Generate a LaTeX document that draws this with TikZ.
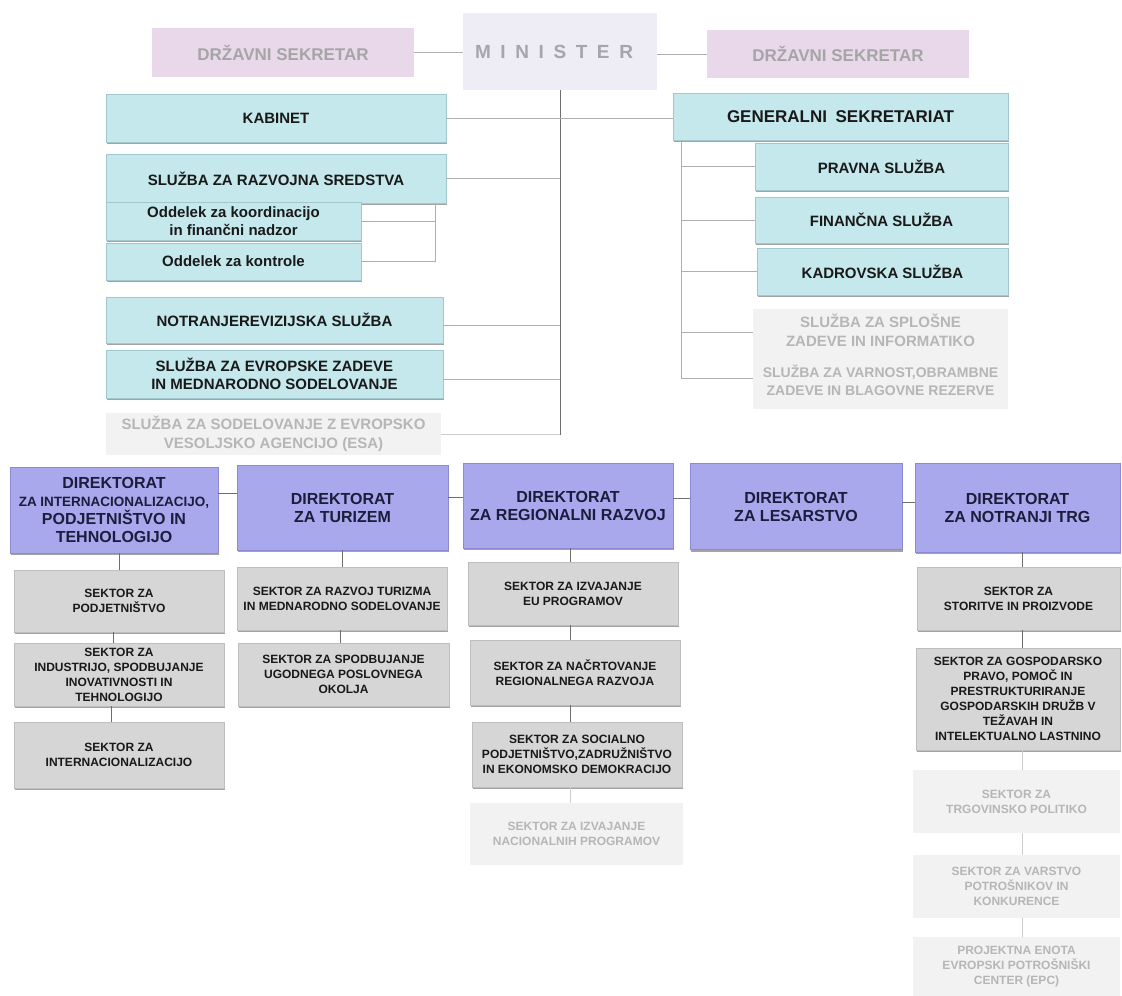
\documentclass[tikz,border=0pt]{standalone}
\usepackage{fontspec}
\setmainfont{Liberation Sans}
\usetikzlibrary{shadows}
\definecolor{cyanbox}{RGB}{197,232,236}
\definecolor{cyanedge}{RGB}{160,200,206}
\definecolor{dirbox}{RGB}{170,168,236}
\definecolor{diredge}{RGB}{140,138,210}
\definecolor{dirtext}{RGB}{28,28,60}
\definecolor{sekbox}{RGB}{214,214,214}
\definecolor{sekedge}{RGB}{190,190,190}
\definecolor{fadebox}{RGB}{242,242,242}
\definecolor{fadetext}{RGB}{182,182,182}
\definecolor{dsbox}{RGB}{232,216,234}
\definecolor{dstext}{RGB}{165,165,165}
\definecolor{minbox}{RGB}{238,237,246}
\definecolor{mintext}{RGB}{165,165,172}
\definecolor{textdark}{RGB}{25,25,25}
\definecolor{linelight}{RGB}{175,175,175}
\definecolor{linedark}{RGB}{110,110,110}
\definecolor{linefade}{RGB}{205,205,205}
\tikzset{
  box/.style={rectangle, inner sep=1pt, align=center, anchor=center},
  shad/.style={drop shadow={shadow xshift=1.2pt, shadow yshift=-2pt, fill=black!45, opacity=0.8}},
  cybox/.style={box, shad, fill=cyanbox, draw=cyanedge, line width=0.6pt, text=textdark,
    font=\bfseries\fontsize{15}{18}\selectfont},
  dirbx/.style={box, shad, fill=dirbox, draw=diredge, line width=0.6pt, text=dirtext,
    font=\bfseries\fontsize{16}{18}\selectfont},
  sekbx/.style={box, shad, fill=sekbox, draw=sekedge, line width=0.6pt, text=textdark,
    font=\bfseries\fontsize{12}{15}\selectfont},
  fadebx/.style={box, fill=fadebox, text=fadetext, font=\bfseries\fontsize{15}{19}\selectfont},
  fadesek/.style={box, fill=fadebox, text=fadetext, font=\bfseries\fontsize{12}{15}\selectfont},
  dsbx/.style={box, fill=dsbox, text=dstext, font=\bfseries\fontsize{17}{20}\selectfont},
  minbx/.style={box, fill=minbox, text=mintext, font=\bfseries\fontsize{19}{22}\selectfont},
  conn/.style={draw=linelight, line width=0.8pt},
  conndark/.style={draw=linedark, line width=0.9pt},
  connfade/.style={draw=linefade, line width=0.8pt},
}
\newcommand{\gp}{\hspace{9.6pt}}
\begin{document}
\begin{tikzpicture}[x=1pt,y=-1pt]
\useasboundingbox[fill=white] (0,0) rectangle (1122,996);

% top level
\node[dsbx, minimum width=262pt, minimum height=49pt] (DSL) at (283,52.5) {DRŽAVNI SEKRETAR};
\node[minbx, minimum width=194pt, minimum height=77pt] (MIN) at (560,51.5) {M\gp I\gp N\gp I\gp S\gp T\gp E\gp R\hspace{12pt}};
\node[dsbx, minimum width=262pt, minimum height=48pt] (DSR) at (838,54) {DRŽAVNI SEKRETAR};

% left services
\node[cybox, minimum width=340pt, minimum height=48pt] (KAB) at (276,118) {KABINET};
\node[cybox, minimum width=340pt, minimum height=49pt] (SRS) at (276,178.5) {SLUŽBA ZA RAZVOJNA SREDSTVA};
\node[cybox, minimum width=255pt, minimum height=38pt] (OK) at (233.5,221) {Oddelek za koordinacijo\\in finančni nadzor};
\node[cybox, minimum width=255pt, minimum height=37pt] (OKT) at (233.5,261.5) {Oddelek za kontrole};
\node[cybox, minimum width=337pt, minimum height=46pt] (NRS) at (274.5,320) {NOTRANJEREVIZIJSKA SLUŽBA};
\node[cybox, minimum width=337pt, minimum height=48pt] (SEZ) at (274.5,374) {SLUŽBA ZA EVROPSKE ZADEVE\\IN MEDNARODNO SODELOVANJE};
\node[fadebx, minimum width=335pt, minimum height=42pt] (ESA) at (273.5,434) {SLUŽBA ZA SODELOVANJE Z EVROPSKO\\VESOLJSKO AGENCIJO (ESA)};

% right services
\node[cybox, minimum width=335pt, minimum height=47pt, font=\bfseries\fontsize{17}{20}\selectfont] (GS) at (840.5,116.5) {GENERALNI\hspace{0.5em}SEKRETARIAT};
\node[cybox, minimum width=253pt, minimum height=47pt] (PRA) at (881.5,166.5) {PRAVNA SLUŽBA};
\node[cybox, minimum width=253pt, minimum height=46pt] (FIN) at (881.5,220) {FINANČNA SLUŽBA};
\node[cybox, minimum width=251pt, minimum height=47pt] (KAD) at (882.5,271.5) {KADROVSKA SLUŽBA};
\node[fadebx, minimum width=255pt, minimum height=42pt] (SPL) at (880.5,330) {SLUŽBA ZA SPLOŠNE\\ZADEVE IN INFORMATIKO};
\node[fadebx, minimum width=255pt, minimum height=58pt, font=\bfseries\fontsize{14}{18}\selectfont] (VAR) at (880.5,380) {SLUŽBA ZA VARNOST,OBRAMBNE\\ZADEVE IN BLAGOVNE REZERVE};

% directorates
\node[dirbx, minimum width=208pt, minimum height=86pt] (D1) at (114,510) {DIREKTORAT\\{\fontsize{13.5}{18}\selectfont ZA INTERNACIONALIZACIJO,}\\PODJETNIŠTVO IN\\TEHNOLOGIJO};
\node[dirbx, minimum width=211pt, minimum height=85pt] (D2) at (342.5,507.5) {DIREKTORAT\\ZA TURIZEM};
\node[dirbx, minimum width=210pt, minimum height=85pt] (D3) at (568,505.5) {DIREKTORAT\\ZA REGIONALNI RAZVOJ};
\node[dirbx, minimum width=212pt, minimum height=86pt] (D4) at (796,506.5) {DIREKTORAT\\ZA LESARSTVO};
\node[dirbx, minimum width=205pt, minimum height=89pt] (D5) at (1017.5,507.5) {DIREKTORAT\\ZA NOTRANJI TRG};

% sectors column 1
\node[sekbx, minimum width=210pt, minimum height=62pt] (S1) at (119,601) {SEKTOR ZA\\PODJETNIŠTVO};
\node[sekbx, minimum width=210pt, minimum height=63pt] (S2) at (119,674.5) {SEKTOR ZA\\INDUSTRIJO, SPODBUJANJE\\INOVATIVNOSTI IN\\TEHNOLOGIJO};
\node[sekbx, minimum width=210pt, minimum height=66pt] (S3) at (119,755) {SEKTOR ZA\\INTERNACIONALIZACIJO};

% column 2
\node[sekbx, minimum width=210pt, minimum height=63pt] (T1) at (342,598.5) {SEKTOR ZA RAZVOJ TURIZMA\\IN MEDNARODNO SODELOVANJE};
\node[sekbx, minimum width=211pt, minimum height=63pt] (T2) at (343.5,674.5) {SEKTOR ZA SPODBUJANJE\\UGODNEGA POSLOVNEGA\\OKOLJA};

% column 3
\node[sekbx, minimum width=210pt, minimum height=63pt] (R1) at (573,593.5) {SEKTOR ZA IZVAJANJE\\EU PROGRAMOV};
\node[sekbx, minimum width=210pt, minimum height=65pt] (R2) at (575,672.5) {SEKTOR ZA NAČRTOVANJE\\REGIONALNEGA RAZVOJA};
\node[sekbx, minimum width=210pt, minimum height=65pt] (R3) at (577,754.5) {SEKTOR ZA SOCIALNO\\PODJETNIŠTVO,ZADRUŽNIŠTVO\\IN EKONOMSKO DEMOKRACIJO};
\node[fadesek, minimum width=213pt, minimum height=62pt] (R4) at (576.5,834) {SEKTOR ZA IZVAJANJE\\NACIONALNIH PROGRAMOV};

% column 5
\node[sekbx, minimum width=203pt, minimum height=63pt] (N1) at (1018.5,598.5) {SEKTOR ZA\\STORITVE IN PROIZVODE};
\node[sekbx, minimum width=204pt, minimum height=102pt] (N2) at (1018,699) {SEKTOR ZA GOSPODARSKO\\PRAVO, POMOČ IN\\PRESTRUKTURIRANJE\\GOSPODARSKIH DRUŽB V\\TEŽAVAH IN\\INTELEKTUALNO LASTNINO};
\node[fadesek, minimum width=207pt, minimum height=63pt] (N3) at (1016.5,801.5) {SEKTOR ZA\\TRGOVINSKO POLITIKO};
\node[fadesek, minimum width=207pt, minimum height=63pt] (N4) at (1016.5,886.5) {SEKTOR ZA VARSTVO\\POTROŠNIKOV IN\\KONKURENCE};
\node[fadesek, minimum width=207pt, minimum height=59pt] (N5) at (1016.5,966.5) {PROJEKTNA ENOTA\\EVROPSKI POTROŠNIŠKI\\CENTER (EPC)};

% ---- connectors: top
\draw[conn] (DSL.east) -- (DSL.east -| MIN.west);
\draw[conn] (DSR.west -| MIN.east) -- (DSR.west);
\coordinate (spineEnd) at (560,435);
\draw[conndark] (MIN.south) -- (spineEnd);
\draw[conn] (KAB.east) -- (KAB.east -| GS.west);
\draw[conn] (SRS.east) -- (SRS.east -| MIN.south);
\draw[conn] ([yshift=-5pt]NRS.east) -- ([yshift=-5pt]NRS.east -| MIN.south);
\draw[conn] ([yshift=-5pt]SEZ.east) -- ([yshift=-5pt]SEZ.east -| MIN.south);
\draw[connfade] (ESA.east) -- (ESA.east -| spineEnd);

% bracket of SRS
\coordinate (brTop) at ([xshift=-11pt]SRS.south east);
\draw[conn] (brTop) |- (OKT.east);
\draw[conn] (OK.east) -- (OK.east -| brTop);

% GS spine
\coordinate (gsTop) at ([xshift=9pt]GS.south west);
\draw[conn] (gsTop) |- ([yshift=2pt]VAR.west);
\draw[conn] (PRA.west) -- (PRA.west -| gsTop);
\draw[conn] (FIN.west) -- (FIN.west -| gsTop);
\draw[conn] (KAD.west) -- (KAD.west -| gsTop);
\draw[conn] ([yshift=-2pt]SPL.west) -- ([yshift=-2pt]SPL.west -| gsTop);

% directorates row
\draw[conndark] ([yshift=17pt]D1.east) -- ([yshift=17pt]D1.east -| D2.west);
\draw[conndark] ([yshift=10.5pt]D2.east) -- ([yshift=10.5pt]D2.east -| D3.west);
\draw[conndark] ([yshift=7.5pt]D3.east) -- ([yshift=7.5pt]D3.east -| D4.west);
\draw[conndark] ([yshift=4.5pt]D4.east) -- ([yshift=4.5pt]D4.east -| D5.west);

% column connectors
\draw[conndark] (D1.south -| S1.north) -- (S1.north);
\draw[conndark] ([xshift=-6pt]S1.south) -- ([xshift=-6pt]S2.north);
\draw[conndark] ([xshift=-8pt]S2.south) -- ([xshift=-8pt]S3.north);
\draw[conndark] (D2.south -| T1.north) -- (T1.north);
\draw[conndark] ([xshift=-2pt]T1.south) -- ([xshift=-2pt]T1.south |- T2.north);
\draw[conndark] (D3.south -| 570,0) -- (R1.north -| 570,0);
\draw[conndark] (R1.south -| 570,0) -- (R2.north -| 570,0);
\draw[conndark] (R2.south -| 570,0) -- (R3.north -| 570,0);
\draw[connfade] (R3.south -| 570,0) -- (R4.north -| 570,0);
\draw[conndark] (D5.south -| 1022,0) -- (N1.north -| 1022,0);
\draw[conndark] (N1.south -| 1022,0) -- (N2.north -| 1022,0);
\draw[connfade] (N2.south -| 1022,0) -- (N3.north -| 1022,0);
\draw[connfade] (N3.south -| 1022,0) -- (N4.north -| 1022,0);
\draw[connfade] (N4.south -| 1022,0) -- (N5.north -| 1022,0);
\end{tikzpicture}
\end{document}
